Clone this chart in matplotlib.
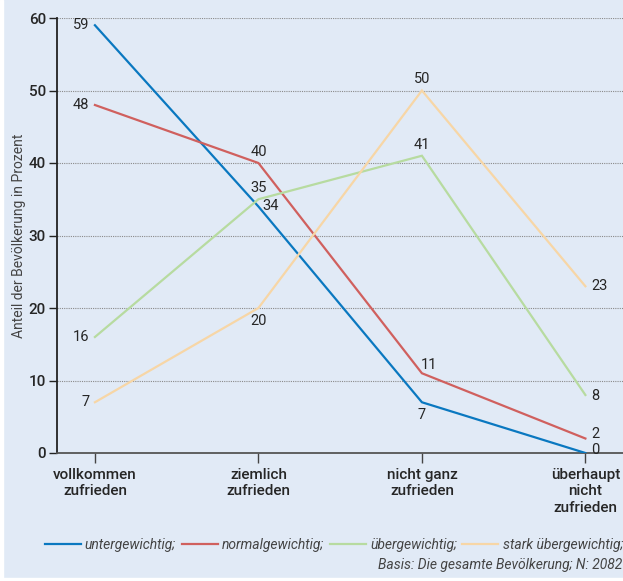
import matplotlib
matplotlib.use("Agg")
import matplotlib.pyplot as plt
from matplotlib.lines import Line2D
from matplotlib.patches import Rectangle

categories = ["vollkommen\nzufrieden", "ziemlich\nzufrieden", "nicht ganz\nzufrieden", "überhaupt\nnicht\nzufrieden"]
untergewichtig = [59, 34, 7, 0]
normalgewichtig = [48, 40, 11, 2]
uebergewichtig = [16, 35, 41, 8]
stark_uebergewichtig = [7, 20, 50, 23]
series_names = ["untergewichtig;", "normalgewichtig;", "übergewichtig;", "stark übergewichtig;"]
yticks = [0, 10, 20, 30, 40, 50, 60]

plt.rcParams['font.family'] = ['Roboto', 'DejaVu Sans']

bg = "#e1eaf6"
txt = "#262626"
colors = ["#0a78c0", "#d0605e", "#b7dba0", "#f7d6a6"]

fig = plt.figure(figsize=(6.23, 5.81), dpi=100, facecolor=bg)
# thin white margins at left and bottom edges
fig.patches.append(Rectangle((0, 0), 3/623, 1, transform=fig.transFigure, color="white", zorder=10))
fig.patches.append(Rectangle((0, 0), 1, 3/581, transform=fig.transFigure, color="white", zorder=10))

ax = fig.add_axes([57/623, 1-453/581, 1-57/623, (453-18)/581])
ax.set_facecolor(bg)

x = list(range(len(categories)))
all_series = [untergewichtig, normalgewichtig, uebergewichtig, stark_uebergewichtig]
for s, c in zip(all_series, colors):
    ax.plot(x, s, color=c, lw=1.6, solid_joinstyle='miter', zorder=3)

ax.set_xlim(-0.232, 3.23)
ax.set_ylim(0, 60)
ax.set_yticks(yticks)
ax.set_xticks(x)
ax.set_xticklabels(categories, fontsize=11, color=txt, linespacing=1.2, fontweight='medium')
ax.set_yticklabels([str(v) for v in yticks], fontsize=11, color=txt, fontweight='medium')
ax.tick_params(axis='y', colors="#222222", length=6, width=1, pad=2)
ax.tick_params(axis='x', length=7, width=1, colors="#444444", pad=4)
for lab in ax.get_xticklabels() + ax.get_yticklabels():
    lab.set_color(txt)

for yv in yticks[1:]:
    ax.axhline(yv, color="#8a8a8a", lw=0.8, ls=(0, (1, 1)), zorder=1)

for sp in ["top", "right"]:
    ax.spines[sp].set_visible(False)
ax.spines["left"].set_color("#222222")
ax.spines["left"].set_linewidth(1.3)
ax.spines["bottom"].set_color("#555555")
ax.spines["bottom"].set_linewidth(1.3)

ax.set_ylabel("Anteil der Bevölkerung in Prozent", fontsize=10, color="#444444", labelpad=2)

fs = 10.5
def lab(xi, yi, t, dx, dy, ha, va):
    ax.annotate(str(t), (xi, yi), xytext=(dx, dy), textcoords="offset points",
                ha=ha, va=va, fontsize=fs, color=txt, zorder=5)

# vollkommen
for s in all_series:
    lab(0, s[0], s[0], -4, 0, 'right', 'center')
# ziemlich
lab(1, normalgewichtig[1], normalgewichtig[1], 0, 3, 'center', 'bottom')
lab(1, uebergewichtig[1], uebergewichtig[1], 0, 3, 'center', 'bottom')
lab(1, untergewichtig[1], untergewichtig[1], 3, 0, 'left', 'center')
lab(1, stark_uebergewichtig[1], stark_uebergewichtig[1], 0, -4, 'center', 'top')
# nicht ganz
lab(2, stark_uebergewichtig[2], stark_uebergewichtig[2], 0, 3, 'center', 'bottom')
lab(2, uebergewichtig[2], uebergewichtig[2], 0, 3, 'center', 'bottom')
lab(2, normalgewichtig[2], normalgewichtig[2], 5, 1, 'center', 'bottom')
lab(2, untergewichtig[2], untergewichtig[2], 0, -4, 'center', 'top')
# ueberhaupt
lab(3, stark_uebergewichtig[3], stark_uebergewichtig[3], 4, 0, 'left', 'center')
lab(3, uebergewichtig[3], uebergewichtig[3], 4, -1, 'left', 'center')
lab(3, normalgewichtig[3], normalgewichtig[3], 4, 3, 'left', 'center')
lab(3, untergewichtig[3], untergewichtig[3], 4, 2, 'left', 'center')

handles = [Line2D([0], [0], color=c, lw=1.6) for c in colors]
leg = fig.legend(handles, series_names, loc='center right', bbox_to_anchor=(1.02, 1-545/581),
                 ncol=4, frameon=False, handlelength=2.6, handletextpad=0.3,
                 columnspacing=0.4, prop={'style': 'italic', 'size': 10})
for t in leg.get_texts():
    t.set_color("#444444")

fig.text(0.999, 1-565/581, "Basis: Die gesamte Bevölkerung; N: 2082", ha='right', va='center',
         fontsize=10, style='italic', color="#444444")

fig.savefig("out.png", dpi=100, facecolor=bg)
